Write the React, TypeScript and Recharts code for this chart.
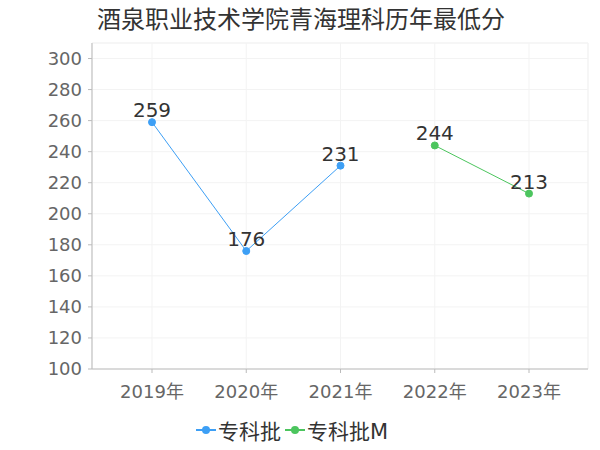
import React from 'react';
import * as R from 'recharts';
import {
  LineChart, Line, XAxis, YAxis, CartesianGrid, Legend, LabelList
} from 'recharts';

const years = ['2019年', '2020年', '2021年', '2022年', '2023年'];
const zhuanke = [259, 176, 231, null, null];
const zhuankeM = [null, null, null, 244, 213];
const yTicks = [100, 120, 140, 160, 180, 200, 220, 240, 260, 280, 300];

const BLUE = '#3d9ff5';
const GREEN = '#4cc55e';
const GRID = '#f3f3f3';
const FONT = '"DejaVu Sans", "Noto Sans CJK SC", sans-serif';

const data = years.map((y, i) => ({
  year: y,
  zk: zhuanke[i],
  zkm: zhuankeM[i],
}));

const legendItems = [
  { name: '专科批', color: BLUE },
  { name: '专科批M', color: GREEN },
];

// faint frame round the plot area (top and side edges of the grid)
function GridFrame() {
  const usePlotArea = (R as any).usePlotArea;
  const area = usePlotArea ? usePlotArea() : null;
  if (!area) return null;
  const { x, y, width, height } = area;
  return (
    <g>
      <line x1={x} y1={y} x2={x + width} y2={y} stroke={GRID} />
      <line x1={x} y1={y} x2={x} y2={y + height} stroke={GRID} />
      <line x1={x + width} y1={y} x2={x + width} y2={y + height} stroke={GRID} />
    </g>
  );
}

function LegendContent() {
  return (
    <div style={{ display: 'flex', justifyContent: 'center', alignItems: 'center', fontFamily: FONT, fontSize: 21, color: '#333' }}>
      {legendItems.map(item => (
        <div key={item.name} style={{ display: 'flex', alignItems: 'center', marginRight: 4 }}>
          <svg width={20} height={10} style={{ marginRight: 2 }}>
            <line x1={0} y1={5} x2={20} y2={5} stroke={item.color} strokeWidth={2} />
            <circle cx={10} cy={5} r={4} fill={item.color} />
          </svg>
          <span>{item.name}</span>
        </div>
      ))}
    </div>
  );
}

export default function App() {
  return (
    <div style={{ position: 'absolute', left: 0, top: 0, width: 600, height: 450, background: '#fff' }}>
      <div style={{ position: 'absolute', left: 97, top: 0, fontFamily: FONT, fontSize: 24, color: '#333', whiteSpace: 'nowrap' }}>
        酒泉职业技术学院青海理科历年最低分
      </div>
      <LineChart width={600} height={450} data={data} margin={{ top: 43, right: 12, bottom: 0, left: 0 }}>
        <CartesianGrid stroke={GRID} />
        <GridFrame />
        <XAxis
          dataKey="year"
          height={30}
          padding={{ left: 60, right: 59 }}
          stroke="#bbb"
          tickSize={4}
          tick={{ fill: '#666', fontSize: 18, fontFamily: FONT }}
          tickMargin={12}
        />
        <YAxis
          width={92}
          domain={[100, 310]}
          ticks={yTicks}
          interval={0}
          stroke="#bbb"
          tickSize={4}
          tickMargin={6}
          tick={{ fill: '#666', fontSize: 18, fontFamily: FONT }}
        />
        <Legend verticalAlign="bottom" content={<LegendContent />} wrapperStyle={{ height: 51, paddingTop: 16, boxSizing: 'border-box' }} />
        <Line type="linear" dataKey="zk" name="专科批" stroke={BLUE} strokeWidth={1} dot={{ r: 3.5, fill: BLUE, stroke: BLUE }} isAnimationActive={false}>
          <LabelList dataKey="zk" position="top" offset={5} fill="#333" fontSize={20} fontFamily={FONT} />
        </Line>
        <Line type="linear" dataKey="zkm" name="专科批M" stroke={GREEN} strokeWidth={1} dot={{ r: 3.5, fill: GREEN, stroke: GREEN }} isAnimationActive={false}>
          <LabelList dataKey="zkm" position="top" offset={5} fill="#333" fontSize={20} fontFamily={FONT} />
        </Line>
      </LineChart>
    </div>
  );
}
